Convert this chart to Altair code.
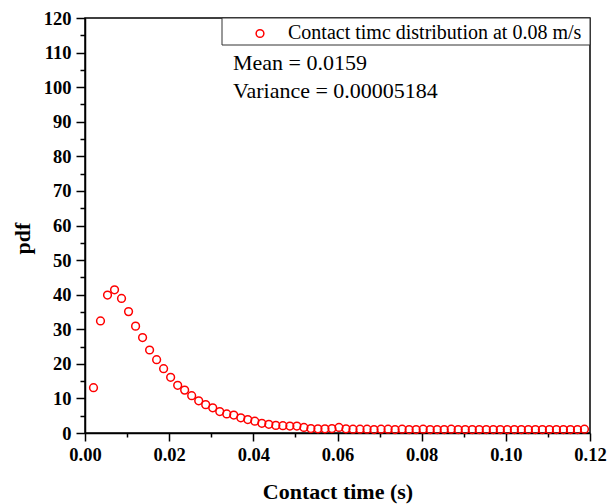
import altair as alt
import pandas as pd

# ---------------- data ----------------
contact_time = [
    0.00202, 0.00368, 0.00535, 0.00702, 0.00868, 0.01035, 0.01202, 0.01368,
    0.01535, 0.01702, 0.01868, 0.02035, 0.02202, 0.02368, 0.02535, 0.02702,
    0.02868, 0.03035, 0.03202, 0.03368, 0.03535, 0.03702, 0.03868, 0.04035,
    0.04202, 0.04368, 0.04535, 0.04702, 0.04868, 0.05035, 0.05202, 0.05368,
    0.05535, 0.05702, 0.05868, 0.06035, 0.06202, 0.06368, 0.06535, 0.06702,
    0.06868, 0.07035, 0.07202, 0.07368, 0.07535, 0.07702, 0.07868, 0.08035,
    0.08202, 0.08368, 0.08535, 0.08702, 0.08868, 0.09035, 0.09202, 0.09368,
    0.09535, 0.09702, 0.09868, 0.10035, 0.10202, 0.10368, 0.10535, 0.10702,
    0.10868, 0.11035, 0.11202, 0.11368, 0.11535, 0.11702, 0.11868,
]
pdf_values = [
    13.1, 32.4, 39.9, 41.4, 38.9, 35.1, 30.9, 27.6,
    24.0, 21.2, 18.6, 16.1, 13.8, 12.4, 10.8, 9.3,
    8.2, 7.3, 6.2, 5.5, 5.2, 4.4, 3.9, 3.4,
    2.8, 2.5, 2.2, 2.1, 2.0, 2.0, 1.6, 1.3,
    1.2, 1.2, 1.3, 1.6, 1.2, 1.1, 1.1, 1.1,
    1.0, 1.1, 1.1, 1.0, 1.1, 1.0, 1.0, 1.1,
    1.0, 1.0, 1.0, 1.1, 1.0, 1.0, 1.0, 1.0,
    1.0, 1.0, 1.0, 1.0, 1.0, 1.0, 1.0, 1.0,
    1.0, 1.0, 1.0, 1.0, 1.0, 1.0, 1.1,
]

x_major_ticks = [0.0, 0.02, 0.04, 0.06, 0.08, 0.10, 0.12]
x_minor_ticks = [0.01, 0.03, 0.05, 0.07, 0.09, 0.11]
y_major_ticks = [0, 10, 20, 30, 40, 50, 60, 70, 80, 90, 100, 110, 120]
y_minor_ticks = [5, 15, 25, 35, 45, 55, 65, 75, 85, 95, 105, 115]

series_name = "Contact timc distribution at 0.08 m/s"
stat_lines = ["Mean = 0.0159", "Variance = 0.00005184"]
x_title = "Contact time (s)"
y_title = "pdf"

# ---------------- chart ----------------
FONT = "Liberation Serif"
W, H = 505, 415
RED = "#ff0000"

df = pd.DataFrame({
    "time": contact_time,
    "pdf": pdf_values,
    "series": [series_name] * len(contact_time),
})

xs = alt.Scale(domain=[0, 0.12], nice=False, zero=False)
ys = alt.Scale(domain=[0, 120], nice=False, zero=False)

major_x = alt.Axis(
    values=x_major_ticks, format=".2f", title=x_title, orient="bottom", grid=False,
    domainColor="black", domainWidth=1.5, tickColor="black", tickWidth=1.5, tickSize=8,
    labelFont=FONT, labelFontSize=18.5, labelFontWeight="bold", labelColor="black",
    labelPadding=4, labelFlush=False, labelOverlap=False,
    titleFont=FONT, titleFontSize=22, titleFontWeight="bold", titleColor="black",
    titleY=65, titleBaseline="alphabetic",
)
major_y = alt.Axis(
    values=y_major_ticks, format="d", title=y_title, orient="left", grid=False,
    domainColor="black", domainWidth=1.5, tickColor="black", tickWidth=1.5, tickSize=9,
    labelFont=FONT, labelFontSize=18.5, labelFontWeight="bold", labelColor="black",
    labelPadding=5, labelFlush=False, labelOverlap=False,
    titleFont=FONT, titleFontSize=22, titleFontWeight="bold", titleColor="black",
    titleX=-63, titleY=220, titleBaseline="middle", titleAlign="center",
)
minor_x = alt.Axis(
    values=x_minor_ticks, labels=False, domain=False, grid=False, orient="bottom",
    tickColor="black", tickWidth=1.5, tickSize=4, title=None,
)
minor_y = alt.Axis(
    values=y_minor_ticks, labels=False, domain=False, grid=False, orient="left",
    tickColor="black", tickWidth=1.5, tickSize=5, title=None,
)

points = alt.Chart(df).mark_point(
    shape="circle", filled=False, color=RED, size=60, strokeWidth=1.5, opacity=1
).encode(
    x=alt.X("time:Q", scale=xs, axis=major_x),
    y=alt.Y("pdf:Q", scale=ys, axis=major_y),
)

minor = alt.Chart(df).mark_point(opacity=0).encode(
    x=alt.X("time:Q", scale=xs, axis=minor_x),
    y=alt.Y("pdf:Q", scale=ys, axis=minor_y),
)

legend_df = pd.DataFrame({"series": [series_name]})
legend_box = alt.Chart(legend_df).mark_rect(
    fill="white", stroke="#333333", strokeWidth=1
).encode(x=alt.value(137), x2=alt.value(W), y=alt.value(0), y2=alt.value(27))

legend_symbol = alt.Chart(legend_df).mark_point(
    shape="circle", filled=False, color=RED, size=60, strokeWidth=1.5, opacity=1
).encode(x=alt.value(175), y=alt.value(15.5))

legend_text = alt.Chart(legend_df).mark_text(
    align="left", baseline="alphabetic", font=FONT, fontSize=20, color="black"
).encode(x=alt.value(203), y=alt.value(20.5), text="series:N")

stats = alt.Chart(pd.DataFrame({"k": [0]})).mark_text(
    text=stat_lines, align="left", baseline="alphabetic", font=FONT, fontSize=22,
    color="black", lineHeight=27.5
).encode(x=alt.value(148), y=alt.value(52))

chart = alt.layer(
    points, minor, legend_box, legend_symbol, legend_text, stats
).resolve_axis(
    x="independent", y="independent"
).properties(
    width=W, height=H,
    padding={"left": 85, "top": 18, "right": 17, "bottom": 71},
    autosize=alt.AutoSizeParams(type="none"),
    background="white",
).configure_view(
    stroke="black", strokeWidth=1.5
)

chart.save("out.html", embed_options={"renderer": "svg", "actions": False})
